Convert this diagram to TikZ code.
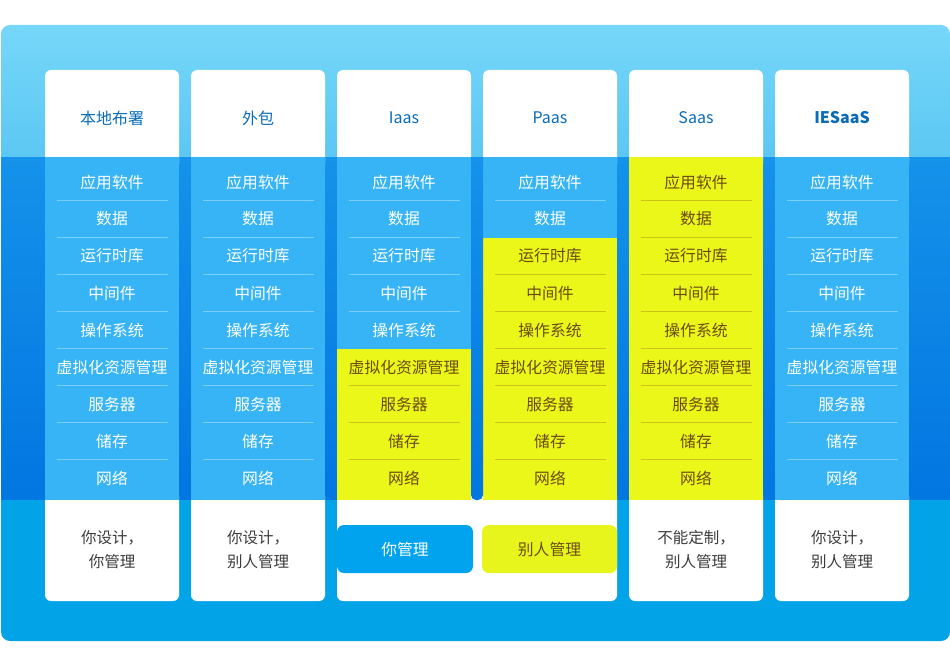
\documentclass[tikz,border=0pt]{standalone}
\usepackage{fontspec}
\setmainfont{Noto Sans CJK SC}
\definecolor{topA}{HTML}{76D7F9}
\definecolor{topB}{HTML}{5CC7F3}
\definecolor{midA}{HTML}{1592EA}
\definecolor{midB}{HTML}{0276E1}
\definecolor{botC}{HTML}{03A3E8}
\definecolor{colblue}{HTML}{36B4F6}
\definecolor{yel}{HTML}{EAF719}
\definecolor{hdr}{HTML}{0A6CB9}
\definecolor{yeltext}{HTML}{6B4C12}
\definecolor{graytext}{HTML}{3C3C3C}
\definecolor{lineblue}{HTML}{7CCFF8}
\definecolor{lineyel}{HTML}{CBC41A}
\definecolor{btnblue}{HTML}{01A3EF}
\definecolor{btnyel}{HTML}{E8F51C}
\tikzset{
  hdrtext/.style={font=\fontsize{16}{18}\selectfont, text=hdr},
  celltext/.style={font=\fontsize{15.8}{18}\selectfont},
  bottext/.style={font=\fontsize{15.5}{24}\selectfont, text=graytext, align=center},
  card/.style={fill=white, rounded corners=6},
}
\begin{document}
\begin{tikzpicture}[x=1pt,y=-1pt]
\useasboundingbox (0,0) rectangle (950,666);
% outer band
\begin{scope}
\clip[rounded corners=9] (1,25) rectangle (950,641);
\shade[top color=topA, bottom color=topB] (0,24) rectangle (951,157);
\shade[top color=midA, bottom color=midB] (0,157) rectangle (951,500);
\fill[botC] (0,500) rectangle (951,642);
\end{scope}
% cards
\foreach \i/\name in {0/本地布署,1/外包,2/Iaas,3/Paas,4/Saas,5/{\textbf{IESaaS}}}{
  \pgfmathsetmacro{\xa}{45+146*\i}
  \fill[card] (\xa,70) rectangle (\xa+134,170);
  \node[hdrtext] (h\i) at (\xa+67,118) {\name};
}
\foreach \i in {0,1,4,5}{
  \pgfmathsetmacro{\xa}{45+146*\i}
  \fill[card] (\xa,490) rectangle (\xa+134,601);
}
\fill[card] (337,490) rectangle (617,601);
% middle fills
\foreach \i/\ys in {0/9,1/9,2/5,3/2,4/0,5/9}{
  \pgfmathsetmacro{\xa}{45+146*\i}
  \pgfmathsetmacro{\yb}{\ys==0 ? 157 : (\ys==9 ? 500 : 200.5+37*(\ys-1))}
  \fill[colblue] (\xa,157) rectangle (\xa+134,\yb);
  \fill[yel] (\xa,\yb) rectangle (\xa+134,500);
  \foreach \k in {1,...,8}{
    \pgfmathsetmacro{\yl}{200.5+37*(\k-1)}
    \ifnum\k=\ys\else
      \ifnum\k<\ys
        \draw[lineblue, line width=1pt] (\xa+12,\yl) -- (\xa+123,\yl);
      \else
        \draw[lineyel, line width=1pt] (\xa+12,\yl) -- (\xa+123,\yl);
      \fi
    \fi
  }
  \foreach \k/\t in {0/应用软件,1/数据,2/运行时库,3/中间件,4/操作系统,5/虚拟化资源管理,6/服务器,7/储存,8/网络}{
    \ifnum\k<\ys
      \node[celltext, text=white] (c\i r\k) at (\xa+67,182+37*\k) {\t};
    \else
      \node[celltext, text=yeltext] (c\i r\k) at (\xa+67,182+37*\k) {\t};
    \fi
  }
}
% gap strip between Iaas and Paas
\begin{scope}
\clip[rounded corners=5] (471,120) rectangle (483,500);
\shade[top color=midA, bottom color=midB] (471,157) rectangle (483,500);
\end{scope}
% bottom texts
\node[bottext] (b0) at (112,550) {你设计，\\你管理};
\node[bottext] (b1) at (258,550) {你设计，\\别人管理};
\node[bottext] (b4) at (696,550) {不能定制，\\别人管理};
\node[bottext] (b5) at (842,550) {你设计，\\别人管理};
% buttons
\fill[btnblue, rounded corners=7] (337,525) rectangle (473,573);
\node[celltext, text=white] (you) at (405,549) {你管理};
\fill[btnyel, rounded corners=7] (482,525) rectangle (617,573);
\node[celltext, text=yeltext] (other) at (549.5,549) {别人管理};
\end{tikzpicture}
\end{document}
